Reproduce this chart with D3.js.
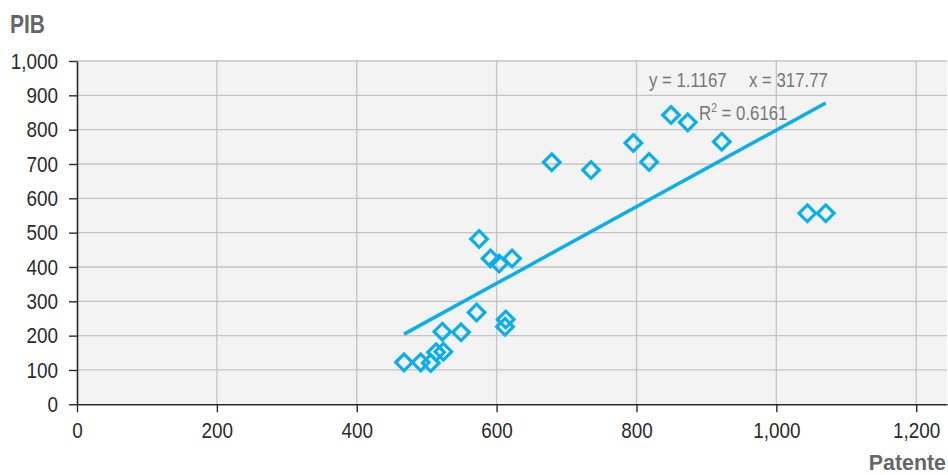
<!DOCTYPE html>
<html><head><meta charset="utf-8">
<script src="https://cdn.jsdelivr.net/npm/d3@7"></script>
<style>html,body{margin:0;padding:0;background:#fff;}svg{display:block;}</style>
</head><body>
<svg id="c" width="948" height="475"></svg>
<script>
// Data (Patente vs PIB)
const patente = [467.6, 491.5, 505.8, 513.4, 523.8, 522.4, 549.1, 571.3, 613.0, 612.0, 574.9, 591.3, 603.5, 622.1, 678.8, 735.0, 795.5, 818.0, 849.4, 873.3, 921.9, 1044.3, 1070.6];
const pib     = [122.3, 122.3, 120.3, 151.5, 153.2, 211.5, 209.7, 267.4, 247.0, 226.0, 481.5, 424.7, 410.1, 424.7, 705.0, 682.5, 761.1, 705.8, 842.7, 821.4, 764.9, 556.4, 556.4];
const xTicks = [0, 200, 400, 600, 800, 1000, 1200];
const yTicks = [0, 100, 200, 300, 400, 500, 600, 700, 800, 900, 1000];
const slope = 1.1167, intercept = -317.77, r2 = 0.6161;

const svg = d3.select('#c');
const FONT = '"Liberation Sans", Arial, sans-serif';
const SX = 0.86; // condensed look for tick labels

const L = 77, R = 947, T = 61, B = 404.3;
const x = d3.scaleLinear().domain([0, 1244]).range([L, R]);
const y = d3.scaleLinear().domain([0, 1000]).range([B, T]);

svg.append('rect').attr('x', L).attr('y', T).attr('width', R - L).attr('height', B - T).attr('fill', '#f2f3f2');

// grid
svg.append('g').selectAll('line').data(yTicks.filter(d => d > 0)).join('line')
  .attr('x1', L).attr('x2', R).attr('y1', d => y(d)).attr('y2', d => y(d))
  .attr('stroke', '#c4c4c6').attr('stroke-width', 1.3);
svg.append('g').selectAll('line').data(xTicks.filter(d => d > 0)).join('line')
  .attr('y1', T).attr('y2', B).attr('x1', d => x(d)).attr('x2', d => x(d))
  .attr('stroke', '#c4c4c6').attr('stroke-width', 1.3);

const fmt = d3.format(',');
// axes
const gx = svg.append('g').attr('transform', `translate(0,${B})`)
  .call(d3.axisBottom(x).tickValues(xTicks).tickFormat(fmt).tickSize(8).tickSizeOuter(0).tickPadding(10));
const gy = svg.append('g').attr('transform', `translate(${L},0)`)
  .call(d3.axisLeft(y).tickValues(yTicks).tickFormat(fmt).tickSize(8).tickSizeOuter(0).tickPadding(11));
[gx, gy].forEach(g => {
  g.select('.domain').attr('stroke', '#2a2a2a').attr('stroke-width', 1.6);
  g.selectAll('.tick line').attr('stroke', '#2a2a2a').attr('stroke-width', 1.4);
  g.selectAll('.tick text').attr('fill', '#2b2b2b').style('font-family', FONT).style('font-size', '22px');
});
gy.selectAll('.tick text').attr('x', -19 / SX).attr('transform', `scale(${SX},1)`);
gx.selectAll('.tick text').attr('transform', `scale(${SX},1)`);

// trend line
const xmin = d3.min(patente), xmax = d3.max(patente);
svg.append('line')
  .attr('x1', x(xmin)).attr('y1', y(slope * xmin + intercept))
  .attr('x2', x(xmax)).attr('y2', y(slope * xmax + intercept))
  .attr('stroke', '#0aaeea').attr('stroke-width', 3.5);

// markers
const pts = patente.map((p, i) => [p, pib[i]]);
svg.append('g').selectAll('path').data(pts).join('path')
  .attr('transform', d => `translate(${x(d[0])},${y(d[1])})`)
  .attr('d', 'M0,-8.3L8.3,0L0,8.3L-8.3,0Z')
  .attr('fill', 'none').attr('stroke', '#0aaeea').attr('stroke-width', 3.2);

// texts
function label(px, py, anchor, opts) {
  const g = svg.append('g').attr('transform', `translate(${px},${py}) scale(${opts.sx},1)`);
  const tx = g.append('text').attr('text-anchor', anchor)
    .style('font-family', FONT).style('font-size', opts.size + 'px')
    .style('font-weight', opts.weight || 'normal').attr('fill', opts.color);
  return tx;
}
label(10, 33, 'start', {size: 25, sx: 0.84, weight: 'bold', color: '#666'}).text('PIB');
label(946, 470, 'end', {size: 23, sx: 0.93, weight: 'bold', color: '#666'}).text('Patente');
label(649, 86.5, 'start', {size: 21, sx: 0.8, color: '#777'}).text('y = ' + slope.toFixed(4));
label(749, 86.5, 'start', {size: 21, sx: 0.8, color: '#777'}).text('x = ' + (-intercept).toFixed(2));
const rt = label(699, 120, 'start', {size: 21, sx: 0.8, color: '#777'});
rt.append('tspan').text('R');
rt.append('tspan').attr('dy', -8).style('font-size', '13px').text('2');
rt.append('tspan').attr('dy', 8).text(' = ' + r2.toFixed(4));
</script>
</body></html>
